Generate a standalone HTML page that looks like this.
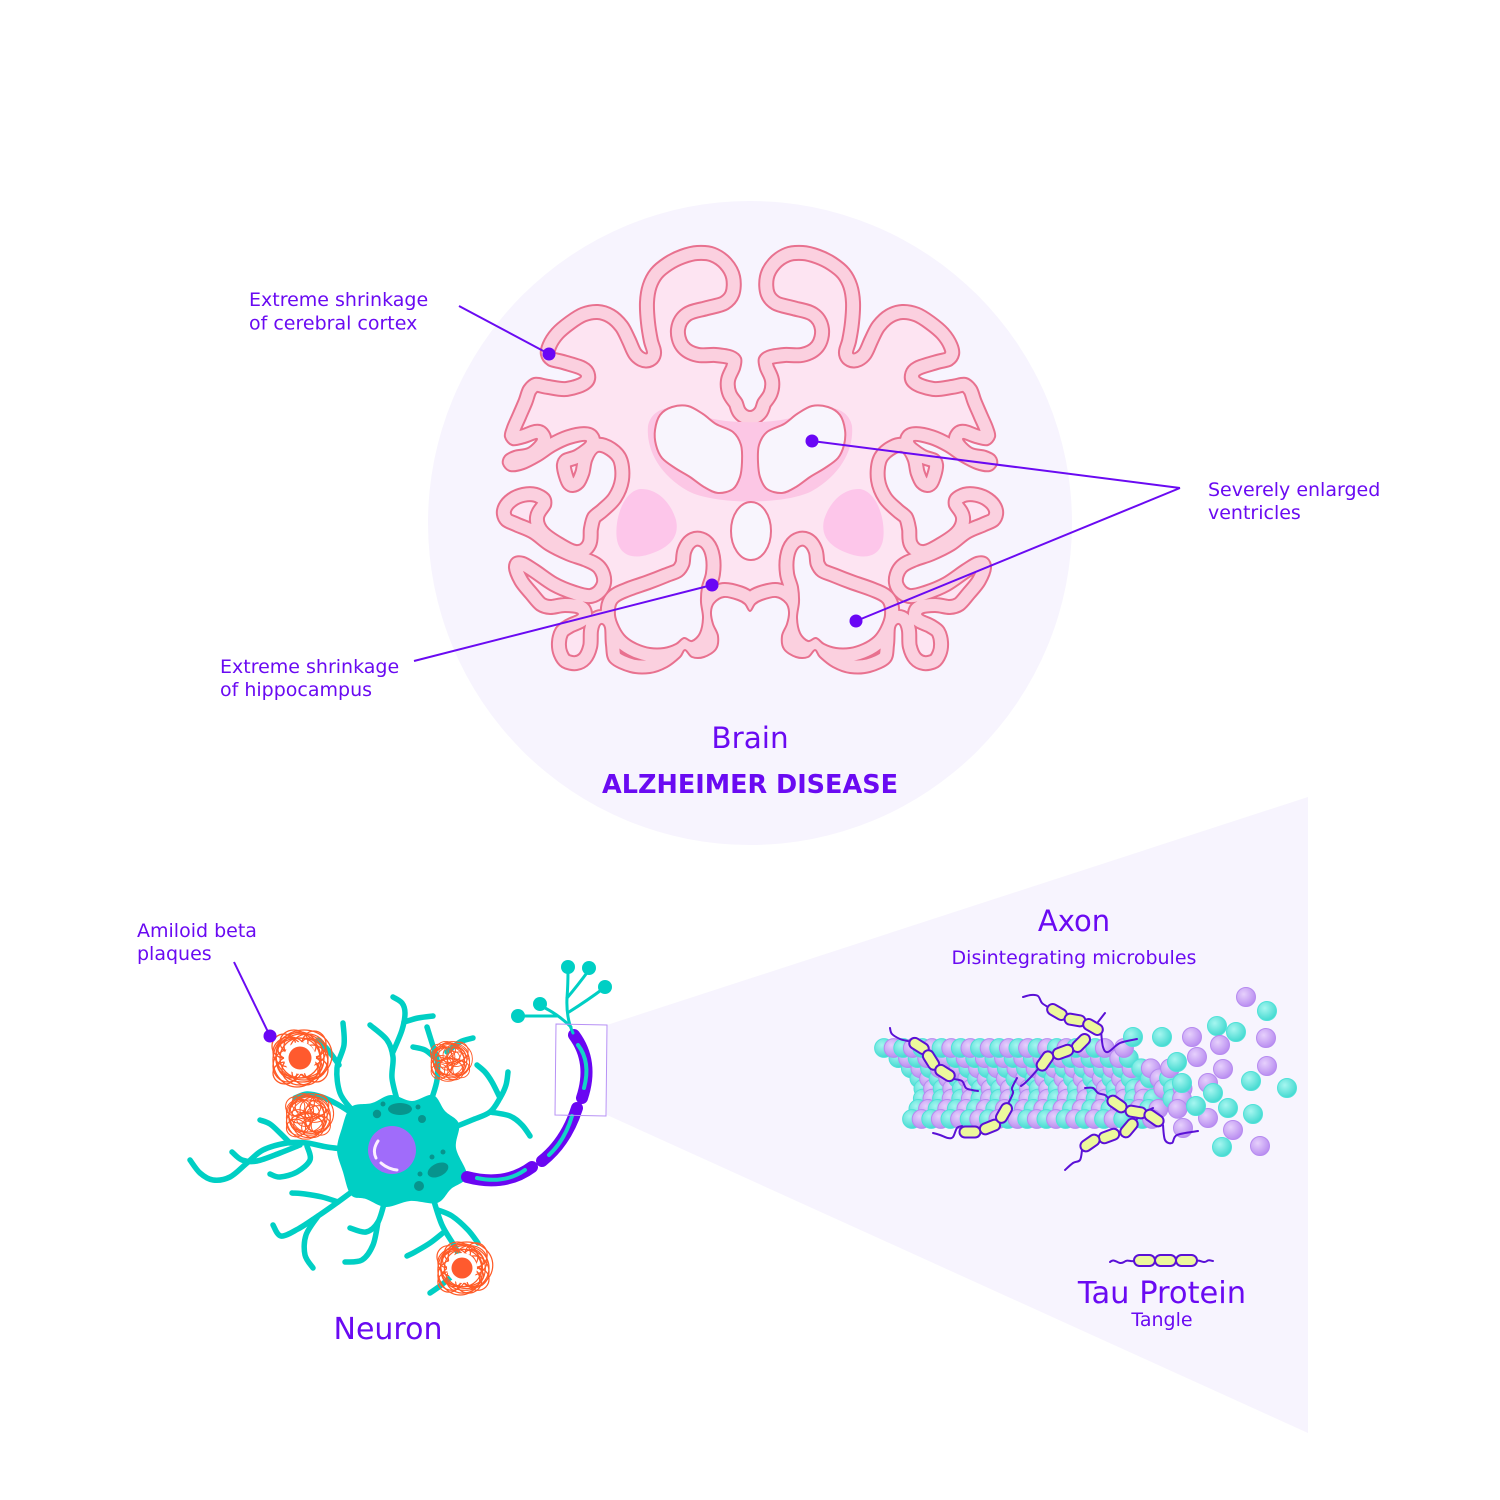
<!DOCTYPE html>
<html>
<head>
<meta charset="utf-8">
<style>
html,body{margin:0;padding:0;background:#ffffff;}
svg{display:block;}
text{font-family:"DejaVu Sans","Liberation Sans",sans-serif;fill:#6a0af2;}
</style>
</head>
<body>
<svg width="1500" height="1500" viewBox="0 0 1500 1500" xmlns="http://www.w3.org/2000/svg">
<defs>
  <radialGradient id="gT" cx="0.38" cy="0.35" r="0.7">
    <stop offset="0" stop-color="#a6f6f0"/><stop offset="1" stop-color="#3fd8cf"/>
  </radialGradient>
  <radialGradient id="gP" cx="0.38" cy="0.35" r="0.7">
    <stop offset="0" stop-color="#e6d0fc"/><stop offset="1" stop-color="#b78af0"/>
  </radialGradient>
  <path id="brain" class="sm" fill-rule="evenodd" clip-rule="evenodd" d="M750,411 L745,408 L742,400 L736,391 L735,381 L740,369 L741,358 L733,351 L716,348 L699,348 L688,342 L685,330 L691,320 L708,315 L728,309 L739,296 L740,276 L731,259 L715,248 L697,246 L680,250 L664,258 L651,269 L643,284 L640,302 L641,323 L644,342 L647,353 L641,350 L635,337 L627,322 L614,310 L598,305 L581,308 L566,317 L552,329 L543,343 L541,355 L548,365 L562,369 L581,376 L566,382 L549,380 L534,378 L524,386 L519,399 L513,413 L507,427 L505,437 L512,445 L525,443 L537,439 L528,448 L514,451 L505,456 L503,464 L510,471 L524,469 L540,461 L555,451 L570,444 L586,441 L575,450 L562,455 L557,464 L559,477 L564,488 L573,492 L583,487 L589,475 L592,461 L598,452 L607,455 L614,463 L615,479 L609,494 L598,505 L588,514 L584,528 L583,541 L576,545 L562,538 L548,528 L544,518 L551,506 L549,495 L537,488 L522,488 L508,494 L499,504 L497,515 L502,525 L514,531 L530,538 L546,550 L566,560 L583,566 L594,572 L597,582 L590,589 L576,586 L557,578 L538,565 L524,557 L513,558 L509,568 L515,584 L526,598 L537,610 L550,614 L565,612 L578,614 L566,620 L556,628 L552,642 L554,656 L562,667 L577,670 L590,663 L597,648 L598,631 L601,624 L605,628 L606,645 L610,662 L630,672 L650,673 L667,667 L680,657 L685,650 L692,657 L704,657 L716,649 L718,636 L713,624 L711,612 L714,603 L724,597 L738,600 L745,604 L750,611 L755,604 L762,600 L776,597 L786,603 L789,612 L787,624 L782,636 L784,649 L796,657 L808,657 L815,650 L820,657 L833,667 L850,673 L870,672 L890,662 L894,645 L895,628 L899,624 L902,631 L903,648 L910,663 L923,670 L938,667 L946,656 L948,642 L944,628 L934,620 L922,614 L935,612 L950,614 L963,610 L974,598 L985,584 L991,568 L987,558 L976,557 L962,565 L943,578 L924,586 L910,589 L903,582 L906,572 L917,566 L934,560 L954,550 L970,538 L986,531 L998,525 L1003,515 L1001,504 L992,494 L978,488 L963,488 L951,495 L949,506 L956,518 L952,528 L938,538 L924,545 L917,541 L916,528 L912,514 L902,505 L891,494 L885,479 L886,463 L893,455 L902,452 L908,461 L911,475 L917,487 L927,492 L936,488 L941,477 L943,464 L938,455 L925,450 L914,441 L930,444 L945,451 L960,461 L976,469 L990,471 L997,464 L995,456 L986,451 L972,448 L963,439 L975,443 L988,445 L995,437 L993,427 L987,413 L981,399 L976,386 L966,378 L951,380 L934,382 L919,376 L938,369 L952,365 L959,355 L957,343 L948,329 L934,317 L919,308 L902,305 L886,310 L873,322 L865,337 L859,350 L853,353 L856,342 L859,323 L860,302 L857,284 L849,269 L836,258 L820,250 L803,246 L785,248 L769,259 L760,276 L761,296 L772,309 L792,315 L809,320 L815,330 L812,342 L801,348 L784,348 L767,351 L759,358 L760,369 L765,381 L764,391 L758,400 L755,408 Z M617,603 L630,596 L650,589 L668,582 L682,576 L689,566 L691,553 L696,546 L702,548 L706,558 L706,573 L702,587 L701,602 L703,618 L700,633 L692,641 L684,638 L676,644 L664,648 L650,648 L637,644 L626,637 L619,627 L615,615 Z M883,603 L870,596 L850,589 L832,582 L818,576 L811,566 L809,553 L804,546 L798,548 L794,558 L794,573 L798,587 L799,602 L797,618 L800,633 L808,641 L816,638 L824,644 L836,648 L850,648 L863,644 L874,637 L881,627 L885,615 Z"/>
  <clipPath id="bc"><use href="#brain"/></clipPath>
  <g id="scr" fill="none" stroke="#ff5a26" stroke-width="1.3">
    <ellipse cx="0" cy="-12" rx="16" ry="14"/>
    <ellipse cx="8" cy="-8" rx="18" ry="16"/>
    <ellipse cx="-10" cy="-6" rx="17" ry="15"/>
    <ellipse cx="12" cy="4" rx="16" ry="17"/>
    <ellipse cx="-12" cy="8" rx="15" ry="16"/>
    <ellipse cx="0" cy="12" rx="18" ry="15"/>
    <ellipse cx="6" cy="14" rx="14" ry="13"/>
    <ellipse cx="-6" cy="-16" rx="14" ry="12"/>
    <ellipse cx="14" cy="-14" rx="12" ry="13"/>
    <ellipse cx="-16" cy="-12" rx="12" ry="12"/>
    <ellipse cx="16" cy="12" rx="12" ry="12"/>
    <ellipse cx="-15" cy="15" rx="12" ry="11"/>
    <ellipse cx="2" cy="0" rx="26" ry="24"/>
    <ellipse cx="-3" cy="2" rx="24" ry="27"/>
    <ellipse cx="4" cy="-3" rx="28" ry="25"/>
    <ellipse cx="0" cy="0" rx="20" ry="20"/>
    <ellipse cx="10" cy="0" rx="14" ry="20"/>
    <ellipse cx="-10" cy="0" rx="14" ry="20"/>
    <ellipse cx="0" cy="8" rx="22" ry="12"/>
    <ellipse cx="0" cy="-8" rx="22" ry="12"/>
    <ellipse cx="-4" cy="4" rx="10" ry="9"/>
    <ellipse cx="5" cy="-4" rx="9" ry="10"/>
  </g>
  <g id="cap"><rect x="-10.5" y="-5.5" width="21" height="11" rx="5.5"/></g>
</defs>

<!-- background shapes -->
<circle cx="750" cy="523" r="322" fill="#f7f4fe"/>
<polygon points="607,1025 1308,797 1308,1433 607,1115" fill="#f7f4fe"/>

<!-- BRAIN -->
<use href="#brain" fill="#fbd0df"/>
<g clip-path="url(#bc)">
  <use href="#brain" fill="#fde4f2"/>
  <use href="#brain" fill="none" stroke="#e8718f" stroke-width="30" stroke-linejoin="round"/>
  <use href="#brain" fill="none" stroke="#fbd0df" stroke-width="26" stroke-linejoin="round"/>
</g>
<use href="#brain" fill="none" stroke="#e8718f" stroke-width="2" stroke-linejoin="round"/>

<!-- corpus callosum halo -->
<path d="M648,426 C646,448 658,474 688,491 C714,505 786,505 812,491 C842,474 854,448 852,426 C849,410 832,405 820,409 L795,417 C770,424 730,424 705,417 L680,409 C668,405 651,410 648,426 Z" fill="#fcc7e5"/>
<!-- basal ganglia -->
<path d="M640,489 C655,488 670,500 676,520 C680,538 668,548 650,554 C632,560 620,555 617,540 C614,522 622,492 640,489 Z" fill="#fdc6ea"/>
<path d="M860,489 C845,488 830,500 824,520 C820,538 832,548 850,554 C868,560 880,555 883,540 C886,522 878,492 860,489 Z" fill="#fdc6ea"/>
<!-- ventricles -->
<path class="sm" d="M660,415 L672,407 L688,406 L703,414 L716,424 L733,432 L741,445 L742,462 L740,477 L733,489 L718,493 L704,487 L690,477 L675,468 L662,458 L656,445 L655,430 Z" fill="#f8f5fd" stroke="#e8718f" stroke-width="2"/>
<path class="sm" d="M840,415 L828,407 L812,406 L797,414 L784,424 L767,432 L759,445 L758,462 L760,477 L767,489 L782,493 L796,487 L810,477 L825,468 L838,458 L844,445 L845,430 Z" fill="#f8f5fd" stroke="#e8718f" stroke-width="2"/>
<ellipse cx="751" cy="531" rx="20" ry="29" fill="#f8f5fd" stroke="#e8718f" stroke-width="2"/>

<!-- brain leader lines -->
<g stroke="#6a0af2" stroke-width="2" fill="none">
  <line x1="459" y1="306" x2="549" y2="354"/>
  <line x1="414" y1="661" x2="712" y2="585"/>
  <line x1="1180" y1="488" x2="812" y2="441"/>
  <line x1="1180" y1="488" x2="856" y2="621"/>
  <line x1="234" y1="962" x2="270" y2="1036"/>
</g>
<g fill="#6a06f5">
  <circle cx="549" cy="354" r="6.5"/>
  <circle cx="712" cy="585" r="6.5"/>
  <circle cx="812" cy="441" r="6.5"/>
  <circle cx="856" cy="621" r="6.5"/>
</g>

<!-- texts -->
<text x="249" y="306" font-size="19">Extreme shrinkage</text>
<text x="249" y="329.5" font-size="19">of cerebral cortex</text>
<text x="1208" y="496" font-size="19">Severely enlarged</text>
<text x="1208" y="519" font-size="19">ventricles</text>
<text x="220" y="673" font-size="19">Extreme shrinkage</text>
<text x="220" y="696" font-size="19">of hippocampus</text>
<text x="750" y="748" text-anchor="middle" font-size="29.5">Brain</text>
<text x="750" y="793" text-anchor="middle" font-size="25.5" font-weight="bold">ALZHEIMER DISEASE</text>
<text x="137" y="937" font-size="19">Amiloid beta</text>
<text x="137" y="960" font-size="19">plaques</text>
<text x="388" y="1339" text-anchor="middle" font-size="30">Neuron</text>
<text x="1074" y="931" text-anchor="middle" font-size="29">Axon</text>
<text x="1074" y="964" text-anchor="middle" font-size="19">Disintegrating microbules</text>
<text x="1162" y="1303" text-anchor="middle" font-size="30.5">Tau Protein</text>
<text x="1162" y="1326" text-anchor="middle" font-size="19">Tangle</text>

<!-- NEURON -->
<g fill="none" stroke="#00cfc4" stroke-width="5.5" stroke-linecap="round" stroke-linejoin="round">
  <path class="sm" d="M352,1150 L327,1147 L307,1143 L287,1143 L263,1150 L247,1163 L230,1177 L213,1180 L200,1173 L190,1160"/>
  <path class="sm" d="M290,1143 L280,1133 L270,1124 L260,1120"/>
  <path class="sm" d="M300,1145 L280,1153 L257,1161 L242,1160 L232,1152"/>
  <path class="sm" d="M307,1146 L310,1160 L297,1172 L280,1177 L270,1174"/>
  <path class="sm" d="M350,1112 L337,1104 L322,1097 L307,1094 L295,1098"/>
  <path class="sm" d="M352,1110 L340,1093 L337,1068 L344,1045 L343,1023"/>
  <path class="sm" d="M339,1065 L328,1050 L318,1040"/>
  <path class="sm" d="M397,1100 L392,1078 L393,1057 L387,1040 L370,1025"/>
  <path class="sm" d="M393,1052 L402,1030 L405,1013 L402,1003 L393,997"/>
  <path class="sm" d="M404,1022 L418,1018 L433,1016"/>
  <path class="sm" d="M432,1098 L437,1080 L437,1060 L432,1043 L427,1027"/>
  <path class="sm" d="M435,1058 L425,1050 L413,1047"/>
  <path class="sm" d="M447,1052 L460,1042 L473,1038"/>
  <path class="sm" d="M455,1127 L472,1120 L490,1112 L500,1098 L506,1085 L508,1072"/>
  <path class="sm" d="M490,1112 L510,1116 L522,1125 L530,1136"/>
  <path class="sm" d="M500,1098 L492,1082 L485,1072 L477,1065"/>
  <path class="sm" d="M357,1188 L338,1202 L318,1216 L298,1229 L281,1236 L273,1225"/>
  <path class="sm" d="M318,1216 L306,1235 L305,1255 L313,1268"/>
  <path class="sm" d="M338,1202 L322,1197 L305,1194 L292,1193"/>
  <path class="sm" d="M385,1200 L378,1222 L366,1232 L350,1228"/>
  <path class="sm" d="M378,1222 L373,1245 L362,1260 L345,1262"/>
  <path class="sm" d="M433,1198 L442,1225 L455,1247 L462,1262"/>
  <path class="sm" d="M438,1210 L452,1216 L468,1230 L478,1243"/>
  <path class="sm" d="M444,1232 L430,1243 L415,1252 L407,1256"/>
  <path class="sm" d="M452,1276 L440,1286 L430,1293"/>
</g>
<!-- soma -->
<path class="sm" d="M337,1150 L342,1128 L351,1107 L372,1103 L391,1095 L412,1101 L433,1095 L445,1111 L459,1124 L456,1148 L467,1176 L451,1189 L437,1203 L410,1201 L386,1207 L366,1199 L351,1195 L343,1172 Z" fill="#00cfc4"/>
<!-- organelles -->
<g fill="#07948d">
  <ellipse cx="400" cy="1109" rx="12" ry="6"/>
  <circle cx="377" cy="1114" r="4.2"/>
  <circle cx="383" cy="1104" r="2.5"/>
  <circle cx="418" cy="1107" r="2.5"/>
  <circle cx="422" cy="1119" r="4"/>
  <ellipse cx="438" cy="1170" rx="11" ry="6.5" transform="rotate(-25 438 1170)"/>
  <circle cx="432" cy="1157" r="2.5"/>
  <circle cx="443" cy="1152" r="2.5"/>
  <circle cx="420" cy="1174" r="2.5"/>
  <circle cx="419" cy="1186" r="5"/>
</g>
<circle cx="392" cy="1150" r="24" fill="#a06cfa"/>
<path d="M378,1141 Q372,1150 376,1158" fill="none" stroke="#fbefff" stroke-width="3" stroke-linecap="round"/>
<path d="M381,1163 Q388,1169 397,1170" fill="none" stroke="#fbefff" stroke-width="3" stroke-linecap="round"/>

<!-- axon -->
<g fill="none" stroke-linecap="round">
  <path d="M467,1177 Q505,1187 532,1167" stroke="#6a06f2" stroke-width="12"/>
  <path d="M542,1161 Q566,1142 577,1108" stroke="#6a06f2" stroke-width="12"/>
  <path d="M582,1098 Q594,1062 574,1035" stroke="#6a06f2" stroke-width="12"/>
  <path d="M477,1178 Q505,1184 525,1170" stroke="#14d3c6" stroke-width="4"/>
  <path d="M549,1155 Q565,1140 572,1116" stroke="#14d3c6" stroke-width="4"/>
  <path d="M584,1088 Q591,1062 578,1045" stroke="#14d3c6" stroke-width="4"/>
</g>
<!-- axon terminal -->
<g fill="none" stroke="#00cfc4" stroke-width="3" stroke-linecap="round">
  <path d="M573,1033 Q566,1018 567,998 Q568,985 568,970"/>
  <path d="M567,998 Q578,985 589,970"/>
  <path d="M569,1012 Q588,1000 604,988"/>
  <path d="M571,1027 Q558,1014 541,1006"/>
  <path d="M557,1016 Q538,1016 519,1016"/>
</g>
<g fill="#00cfc4">
  <circle cx="568" cy="967" r="7"/>
  <circle cx="589" cy="968" r="7"/>
  <circle cx="605" cy="987" r="7"/>
  <circle cx="540" cy="1004" r="7"/>
  <circle cx="518" cy="1016" r="7"/>
</g>
<!-- zoom box -->
<polygon points="556,1024 607,1025 606,1116 555,1115" fill="none" stroke="#b791f5" stroke-width="1"/>

<!-- plaques -->
<use href="#scr" transform="translate(300,1058)"/>
<circle cx="300" cy="1058" r="16" fill="#ffffff"/>
<circle cx="300" cy="1058" r="11.5" fill="#ff5a2e"/>
<use href="#scr" transform="translate(308,1116) scale(0.8)"/>
<use href="#scr" transform="translate(450,1061) scale(0.7)"/>
<use href="#scr" transform="translate(463,1268) scale(0.93)"/>
<circle cx="462" cy="1268" r="15" fill="#ffffff"/>
<circle cx="462" cy="1268" r="10.5" fill="#ff5a2e"/>
<circle cx="270" cy="1036" r="6.5" fill="#6a06f5"/>

<!-- MICROTUBULE -->
<g id="tube"></g>

<!-- tau proteins -->
<g fill="none" stroke="#5a10d6" stroke-width="2" stroke-linecap="round">
  <path class="sm" d="M890,1028 L892,1034 L900,1039 L908,1041"/>
  <path class="sm" d="M954,1079 L962,1081 L966,1088 L972,1090 L978,1091"/>
  <path class="sm" d="M1023,997 L1031,995 L1038,996 L1042,1003 L1048,1007"/>
  <path class="sm" d="M1098,1022 L1105,1013"/>
  <path class="sm" d="M1101,1030 L1103,1047 L1108,1052 L1120,1043 L1137,1039"/>
  <path class="sm" d="M1038,1069 L1031,1077 L1025,1083 L1021,1086"/>
  <path class="sm" d="M933,1133 L940,1135 L948,1138 L953,1137 L957,1128 L962,1126"/>
  <path class="sm" d="M1008,1104 L1013,1093 L1012,1088 L1017,1078"/>
  <path class="sm" d="M1085,1088 L1093,1088 L1098,1093 L1105,1095 L1108,1098"/>
  <path class="sm" d="M1163,1125 L1165,1140 L1172,1143 L1177,1135 L1198,1131"/>
  <path class="sm" d="M1153,1108 L1143,1113 L1137,1119"/>
  <path class="sm" d="M1082,1150 L1080,1160 L1073,1163 L1065,1170"/>
</g>
<g fill="#ecf89c" stroke="#5a10d6" stroke-width="2">
  <use href="#cap" transform="translate(919,1046) rotate(32)"/>
  <use href="#cap" transform="translate(931,1060) rotate(58)"/>
  <use href="#cap" transform="translate(945,1073) rotate(32)"/>
  <use href="#cap" transform="translate(1057,1012) rotate(30)"/>
  <use href="#cap" transform="translate(1075,1020) rotate(10)"/>
  <use href="#cap" transform="translate(1093,1027) rotate(30)"/>
  <use href="#cap" transform="translate(1081,1043) rotate(-45)"/>
  <use href="#cap" transform="translate(1063,1052) rotate(-20)"/>
  <use href="#cap" transform="translate(1045,1061) rotate(-55)"/>
  <use href="#cap" transform="translate(970,1132) rotate(0)"/>
  <use href="#cap" transform="translate(990,1127) rotate(-22)"/>
  <use href="#cap" transform="translate(1004,1113) rotate(-60)"/>
  <use href="#cap" transform="translate(1117,1104) rotate(35)"/>
  <use href="#cap" transform="translate(1136,1112) rotate(10)"/>
  <use href="#cap" transform="translate(1154,1118) rotate(35)"/>
  <use href="#cap" transform="translate(1129,1128) rotate(-50)"/>
  <use href="#cap" transform="translate(1109,1136) rotate(-20)"/>
  <use href="#cap" transform="translate(1090,1143) rotate(-35)"/>
</g>

<!-- tau legend -->
<g fill="none" stroke="#5a10d6" stroke-width="2" stroke-linecap="round">
  <path d="M1110,1262 C1115,1257 1118,1266 1124,1262 C1128,1259 1130,1262 1134,1261"/>
  <path d="M1196,1261 C1200,1259 1203,1264 1207,1261 C1209,1259 1211,1261 1213,1261"/>
</g>
<g fill="#ecf89c" stroke="#5a10d6" stroke-width="2">
  <rect x="1134" y="1255" width="21" height="11" rx="5.5"/>
  <rect x="1155" y="1255" width="21" height="11" rx="5.5"/>
  <rect x="1176" y="1255" width="21" height="11" rx="5.5"/>
</g>
</svg>

<script>
(function(){
  function cr(pts, closed){
    var n=pts.length; if(n<2) return '';
    var d='M'+pts[0][0]+','+pts[0][1];
    function g(k){ if(closed) return pts[((k%n)+n)%n]; return pts[Math.max(0,Math.min(n-1,k))]; }
    var segs = closed? n : n-1;
    for(var i=0;i<segs;i++){
      var p0=g(i-1),p1=g(i),p2=g(i+1),p3=g(i+2);
      var c1x=p1[0]+(p2[0]-p0[0])/6, c1y=p1[1]+(p2[1]-p0[1])/6;
      var c2x=p2[0]-(p3[0]-p1[0])/6, c2y=p2[1]-(p3[1]-p1[1])/6;
      d+='C'+c1x.toFixed(1)+','+c1y.toFixed(1)+' '+c2x.toFixed(1)+','+c2y.toFixed(1)+' '+p2[0]+','+p2[1];
    }
    if(closed) d+='Z';
    return d;
  }
  var els=document.querySelectorAll('.sm');
  for(var e=0;e<els.length;e++){
    var el=els[e]; var d=el.getAttribute('d');
    var subs=d.split('M').filter(function(s){return s.trim().length>0;});
    var out='';
    subs.forEach(function(s){
      var closed=/Z/i.test(s);
      var nums=s.replace(/[LZlz]/g,' ').trim().split(/[\s,]+/).map(Number);
      var pts=[]; for(var k=0;k+1<nums.length;k+=2) pts.push([nums[k],nums[k+1]]);
      out+=cr(pts,closed);
    });
    el.setAttribute('d',out);
  }
  // microtubule spheres
  var s='';
  function sph(x,y,c,r){
    s+='<circle cx="'+x.toFixed(1)+'" cy="'+y.toFixed(1)+'" r="'+(r||9.4)+'" fill="url(#g'+c+')" stroke="'+(c==='T'?'#4fe2d8':'#b68af0')+'" stroke-width="1"/>';
  }
  for(var i=0;i<28;i++){
    for(var j=0;j<8;j++){
      var t=j/7;
      var x=884+i*9.6+28*t+24*Math.sin(Math.PI*t);
      var y=1048+t*71;
      if(i>=23 && ((i*3+j*5)%4===0)) continue;
      if(i>=26 && (j===0||j===7||j===1)) continue;
      sph(x,y,(i%2)?'P':'T');
    }
  }
  var sc=[['P',1246,997],['T',1267,1011],['T',1217,1026],['T',1236,1032],['P',1266,1038],['P',1192,1037],['P',1220,1045],['P',1197,1057],['P',1223,1069],['P',1267,1066],['T',1251,1081],['T',1287,1088],['P',1208,1083],['T',1213,1093],['T',1228,1108],['T',1253,1114],['P',1208,1118],['P',1233,1130],['T',1222,1147],['P',1260,1146],['T',1196,1106],['T',1177,1062],['T',1182,1083],['T',1133,1037],['T',1162,1037],['P',1183,1128]];
  sc.forEach(function(a){ sph(a[1],a[2],a[0],9.5); });
  document.getElementById('tube').innerHTML=s;
})();
</script>
</body>
</html>
